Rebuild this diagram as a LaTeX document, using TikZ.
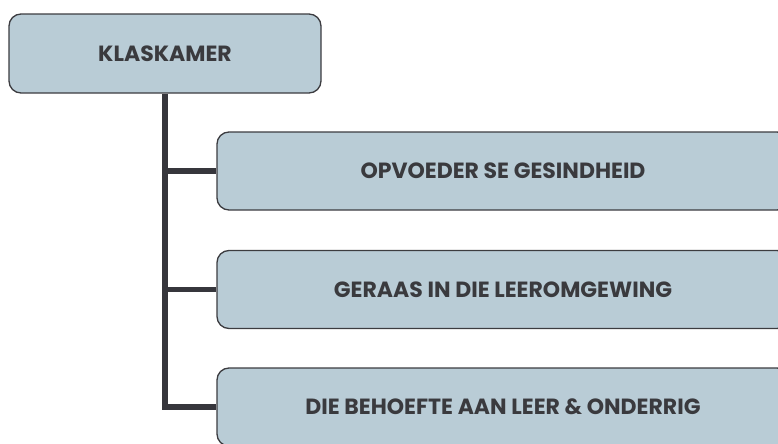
\documentclass[tikz,border=0pt]{standalone}
\usepackage{fontspec}
\setmainfont{Poppins}
\definecolor{boxfill}{RGB}{185,204,214}
\definecolor{boxline}{RGB}{60,60,64}
\definecolor{linkcol}{RGB}{54,54,60}
\definecolor{labelcol}{RGB}{58,58,62}
\tikzset{every picture/.style={line width=0.75pt}}
\tikzset{
  box/.style={draw=boxline, fill=boxfill, rounded corners=9pt, line width=1pt,
    text=labelcol, font=\bfseries\fontsize{16.5}{19}\selectfont, inner sep=0pt},
  childbox/.style={box, minimum width=429pt, minimum height=58.5pt},
  link/.style={draw=linkcol, line width=4.2pt}
}

\begin{document}
\begin{tikzpicture}[x=0.75pt,y=0.75pt,yscale=-1,xscale=1]
    %set diagram frame: 778 wide, 443 high
    \useasboundingbox (0,0) rectangle (778,443);
    \clip (0,0) rectangle (778,443);

    %Shape: Rounded Rectangle [top]
    \node[box, minimum width=234pt, minimum height=59.25pt] (klas) at (165,53.5) {KLASKAMER};
    %Shape: Rounded Rectangle [children]
    \node[childbox] (gesind) at (503,171) {OPVOEDER SE GESINDHEID};
    \node[childbox] (geraas) at (503,289.5) {GERAAS IN DIE LEEROMGEWING};
    \node[childbox] (behoefte) at (503,407) {DIE BEHOEFTE AAN LEER \& ONDERRIG};

    %Connectors
    \draw[link] (klas.south) |- (behoefte.west);
    \draw[link] (klas.south |- gesind.west) -- (gesind.west);
    \draw[link] (klas.south |- geraas.west) -- (geraas.west);
\end{tikzpicture}
\end{document}
